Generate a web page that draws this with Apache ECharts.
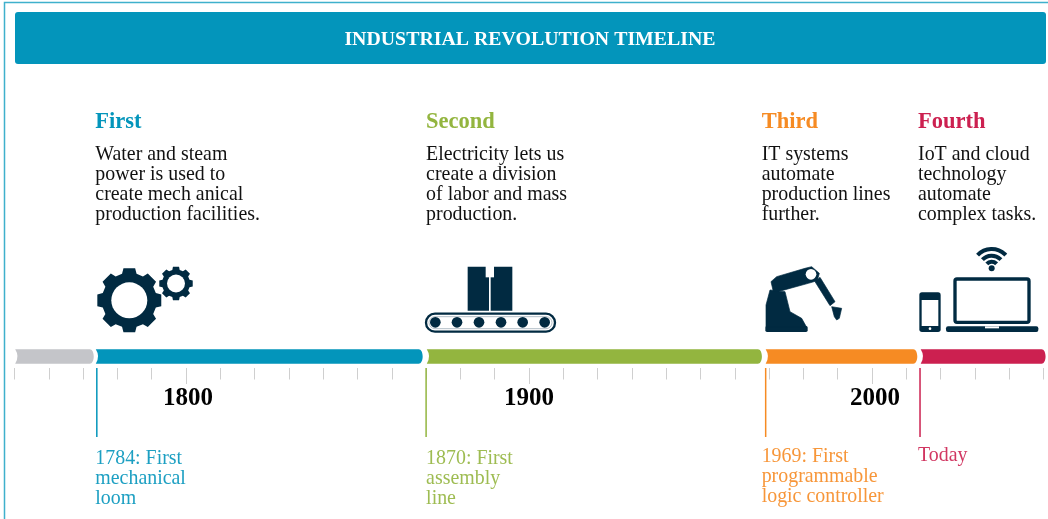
<!DOCTYPE html>
<html>
<head>
<meta charset="utf-8">
<title>Industrial revolution timeline</title>
<style>
  html, body { margin: 0; padding: 0; background: #fff; }
  #main { width: 1048px; height: 519px; }
</style>
<script src="https://cdn.jsdelivr.net/npm/echarts@6/dist/echarts.min.js"></script>
</head>
<body>
<div id="main"></div>
<script>
const titleText = 'INDUSTRIAL REVOLUTION TIMELINE'
const stageNames = ['First', 'Second', 'Third', 'Fourth']
const stageYears = [1774, 1870, 1969, 2014]
const stageText = [
  'Water and steam\npower is used to\ncreate mech anical\nproduction facilities.',
  'Electricity lets us\ncreate a division\nof labor and mass\nproduction.',
  'IT systems\nautomate\nproduction lines\nfurther.',
  'IoT and cloud\ntechnology\nautomate\ncomplex tasks.'
]
const stageNotes = [
  '1784: First\nmechanical\nloom',
  '1870: First\nassembly\nline',
  '1969: First\nprogrammable\nlogic controller',
  'Today'
]
// timeline bar: grey lead-in then one segment per stage
const segmentStarts = [1750.2, 1773.7, 1870.2, 1969, 2014.2]
const segmentEnds = [1773.1, 1869, 1967.9, 2013.2, 2050.6]
const majorYears = [1800, 1900, 2000]
// the year labels sit a little right of their ticks in the picture
const yearLabelAt = [1800.6, 1900, 2000.9]

const segmentColors = ['#c4c5c9', '#0395bb', '#93b53f', '#f68b23', '#cc2050']
const stageColors = segmentColors.slice(1)
const navy = '#012a41'
const serif = '"Liberation Serif", serif'
const textShift = [-1.5, 0, -4, -2]
const noteTop = [448.5, 448.5, 447, 445.5]

function gearPoints(cx, cy, outer, body, teeth) {
  const step = Math.PI * 2 / teeth
  const out = []
  for (let i = 0; i < teeth; i++) {
    const a = -Math.PI / 2 + i * step
    const pts = [
      [body, a - step * 0.34],
      [outer, a - step * 0.23],
      [outer, a + step * 0.23],
      [body, a + step * 0.34]
    ]
    pts.forEach(function(p) {
      out.push([cx + p[0] * Math.cos(p[1]), cy + p[0] * Math.sin(p[1])])
    })
  }
  return out
}

function poly(points) {
  return {
    type: 'polygon',
    shape: { points: points },
    style: { fill: navy, stroke: navy, lineWidth: 2, lineJoin: 'round' }
  }
}
function gear(cx, cy, outer, body, hole) {
  return [
    { type: 'polygon', shape: { points: gearPoints(cx, cy, outer, body, 8) }, style: { fill: navy } },
    circle(cx, cy, hole, '#fff')
  ]
}
function box(x, y, w, h, fill, r) {
  return { type: 'rect', shape: { x: x, y: y, width: w, height: h, r: r || 0 }, style: { fill: fill || navy } }
}
function circle(cx, cy, r, fill) {
  return { type: 'circle', shape: { cx: cx, cy: cy, r: r }, style: { fill: fill || navy } }
}
// icon groups are laid out in 3x units, same as a zoomed crop
function icon(x, y, children) {
  return { type: 'group', x: x, y: y, scaleX: 1 / 3, scaleY: 1 / 3, children: children }
}
function wifiArc(r) {
  return {
    type: 'arc',
    shape: { cx: 245, cy: 85, r: r, startAngle: -Math.PI * 0.76, endAngle: -Math.PI * 0.24, clockwise: true },
    style: { fill: 'none', stroke: navy, lineWidth: 12 }
  }
}

const gears = {
  type: 'group',
  children: gear(129.3, 300.3, 32.5, 27.5, 18).concat(gear(176, 283.5, 17, 14, 9))
}

const rollers = [46, 111, 177, 243, 308, 374]
const conveyor = icon(420, 260, [
  box(143, 20, 64, 132),
  box(212, 20, 65, 132),
  box(197, 18, 25, 34, '#fff'),
  {
    type: 'rect',
    shape: { x: 18, y: 161, width: 387, height: 54, r: 27 },
    style: { fill: 'none', stroke: navy, lineWidth: 7 }
  },
  {
    type: 'rect',
    shape: { x: 27, y: 170, width: 369, height: 36, r: 18 },
    style: { fill: 'none', stroke: '#8ea0ac', lineWidth: 2 }
  }
].concat(rollers.map(function(x) { return circle(x, 187, 16) })))

const robot = icon(740, 240, [
  box(76, 258, 127, 18, navy, 5),
  poly([[90, 150], [78, 195], [78, 262], [200, 262], [185, 235], [150, 215], [135, 155]]),
  poly([[93, 125], [110, 110], [195, 85], [215, 80], [238, 100], [232, 122], [205, 130], [125, 152], [100, 155]]),
  circle(213, 103, 16, '#fff'),
  poly([[225, 125], [240, 112], [285, 185], [270, 197]]),
  poly([[275, 200], [305, 205], [298, 235], [290, 240], [283, 230]])
])

const devices = icon(910, 240, [
  box(28, 157, 64, 119, navy, 8),
  box(35, 180, 50, 78, '#fff'),
  circle(60, 266, 4, '#fff'),
  {
    type: 'rect',
    shape: { x: 135, y: 117, width: 222, height: 130, r: 6 },
    style: { fill: 'none', stroke: navy, lineWidth: 10 }
  },
  box(108, 259, 277, 17, navy, 6),
  box(225, 259, 42, 6, '#fff'),
  wifiArc(58),
  wifiArc(38),
  wifiArc(20),
  circle(245, 85, 9)
])

const chart = echarts.init(document.getElementById('main'), null, { renderer: 'canvas' })

chart.setOption({
  animation: false,
  backgroundColor: '#fff',
  title: {
    text: titleText,
    left: 525,
    top: 25,
    textAlign: 'center',
    textStyle: { color: '#fff', fontFamily: serif, fontWeight: 'bold', fontSize: 19.85 }
  },
  grid: { left: 14.5, right: 4.5, top: 300, bottom: 151 },
  xAxis: [
    {
      type: 'value',
      min: 1750,
      max: 2050,
      interval: 10,
      axisLine: { show: false },
      axisTick: { length: 11.5, lineStyle: { color: '#cfcfcf', width: 1 } },
      axisLabel: { show: false },
      splitLine: { show: false }
    },
    {
      type: 'value',
      position: 'bottom',
      min: 1750,
      max: 2050,
      axisLine: { show: false },
      axisTick: { length: 16, customValues: majorYears, lineStyle: { color: '#cfcfcf', width: 1 } },
      axisLabel: {
        customValues: yearLabelAt,
        formatter: function(v) { return String(Math.floor(v)) },
        margin: 18,
        color: '#000',
        fontFamily: serif,
        fontWeight: 'bold',
        fontSize: 25
      },
      splitLine: { show: false }
    }
  ],
  yAxis: { type: 'value', min: 0, max: 1, show: false },
  graphic: [
    {
      type: 'rect',
      z: -10,
      shape: { x: 4.5, y: 2.5, width: 1100, height: 600 },
      style: { fill: 'none', stroke: '#3fb0cc', lineWidth: 1.5 }
    },
    {
      type: 'rect',
      z: -9,
      shape: { x: 15, y: 12, width: 1031, height: 52, r: 3 },
      style: { fill: '#0395bb' }
    },
    gears,
    conveyor,
    robot,
    devices
  ],
  series: [
    {
      type: 'custom',
      name: 'segments',
      coordinateSystem: 'cartesian2d',
      silent: true,
      data: segmentStarts.map(function(s, i) { return [s, segmentEnds[i], i] }),
      encode: { x: [0, 1] },
      renderItem: function(params, api) {
        const a = api.coord([api.value(0), 0])
        const b = api.coord([api.value(1), 0])
        const x0 = a[0]
        const x1 = b[0]
        const cy = a[1] - 11.5
        const top = cy - 7.2
        const bot = cy + 7.2
        // hollow left end, shallow rounded right end
        const d = [
          'M', x0, top,
          'L', x1 - 4, top,
          'C', x1 - 1.5, top, x1, cy - 4, x1, cy,
          'C', x1, cy + 4, x1 - 1.5, bot, x1 - 4, bot,
          'L', x0, bot,
          'Q', x0 + 4.6, cy, x0, top,
          'Z'
        ].join(' ')
        return {
          type: 'path',
          shape: { pathData: d, x: x0, y: top, width: x1 - x0, height: bot - top, layout: 'cover' },
          style: { fill: segmentColors[api.value(2)] }
        }
      }
    },
    {
      type: 'custom',
      name: 'stages',
      coordinateSystem: 'cartesian2d',
      silent: true,
      data: stageYears.map(function(y, i) { return [y, i] }),
      encode: { x: 0 },
      renderItem: function(params, api) {
        const i = api.value(1)
        const p = api.coord([api.value(0), 0])
        const x = p[0]
        const tx = x + textShift[i]
        const color = stageColors[i]
        return {
          type: 'group',
          children: [
            {
              type: 'line',
              shape: { x1: x, y1: p[1], x2: x, y2: p[1] + 69 },
              style: { stroke: color, lineWidth: 1.5 }
            },
            {
              type: 'text',
              style: { x: tx, y: 111, text: stageNames[i], fill: color, font: 'bold 22.5px ' + serif }
            },
            {
              type: 'text',
              style: { x: tx, y: 145, text: stageText[i], fill: '#111', font: '19.9px ' + serif, lineHeight: 20 }
            },
            {
              type: 'text',
              style: { x: tx, y: noteTop[i], text: stageNotes[i], fill: color, font: '19.9px ' + serif, lineHeight: 20, opacity: 0.9 }
            }
          ]
        }
      }
    }
  ]
})
</script>
</body>
</html>
